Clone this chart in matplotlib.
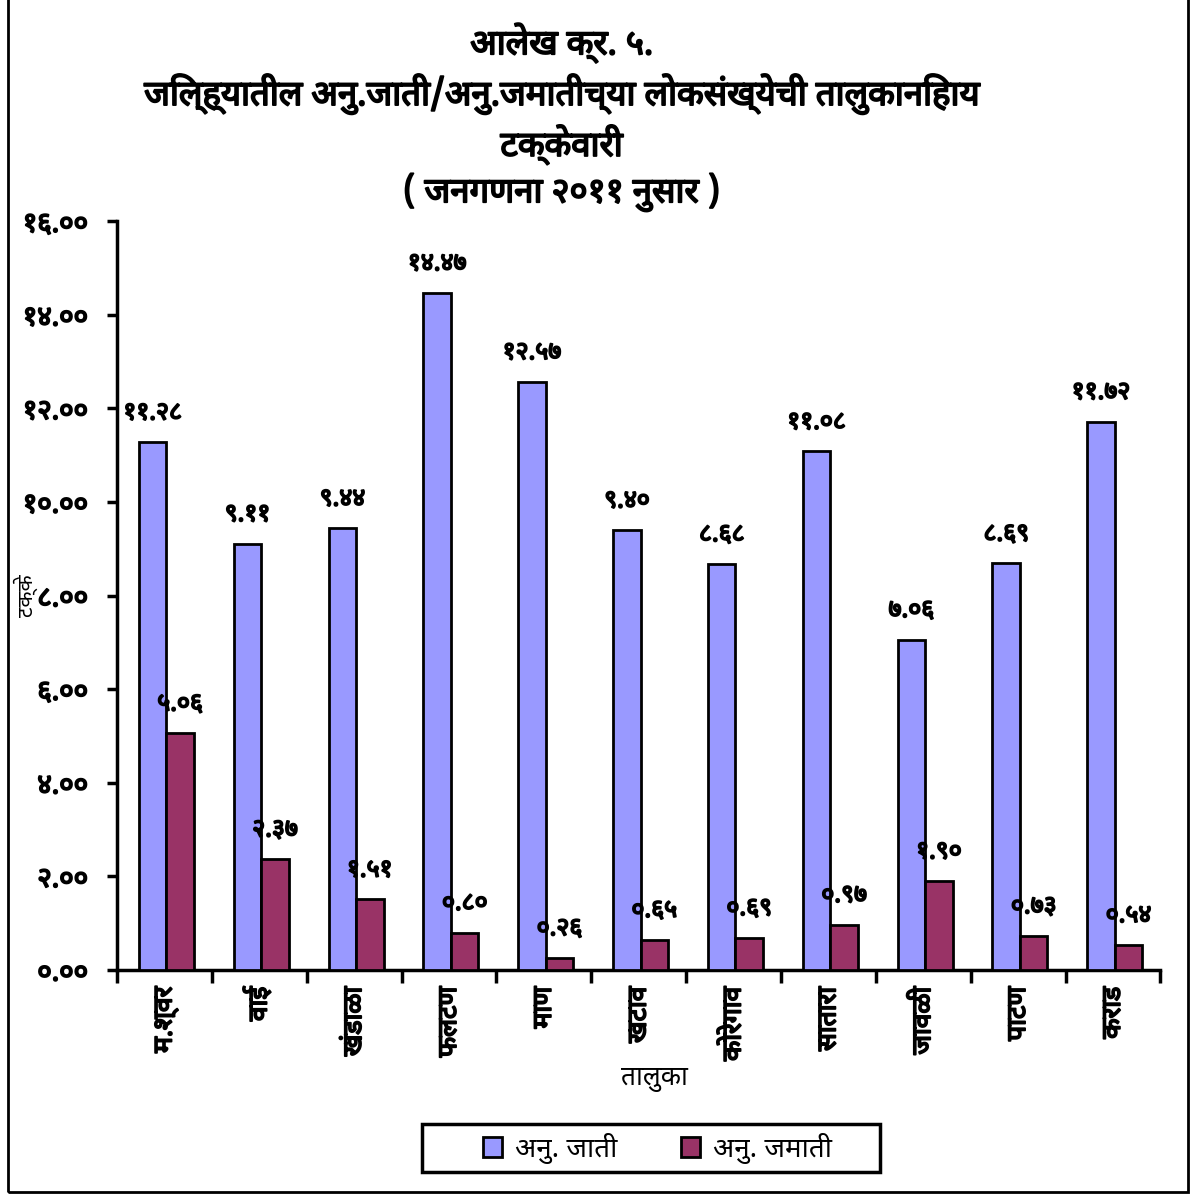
import numpy as np
import matplotlib
matplotlib.use('Agg')
import matplotlib.pyplot as plt
import matplotlib.patheffects as pe
from matplotlib import font_manager, ft2font
from matplotlib.patches import Rectangle

# Data
talukas = ['म.श्वर', 'वाई', 'खंडाळा', 'फलटण', 'माण', 'खटाव',
           'कोरेगाव', 'सातारा', 'जावळी', 'पाटण', 'कराड']
sc_values = [11.28, 9.11, 9.44, 14.47, 12.57, 9.40, 8.68, 11.08, 7.06, 8.69, 11.72]
st_values = [5.06, 2.37, 1.51, 0.80, 0.26, 0.65, 0.69, 0.97, 1.90, 0.73, 0.54]
series_names = ['अनु. जाती', 'अनु. जमाती']
y_ticks = [0, 2, 4, 6, 8, 10, 12, 14, 16]

title_lines = ['आलेख क्र. ५.',
               'जिल्ह्यातील अनु.जाती/अनु.जमातीच्या लोकसंख्येची तालुकानिहाय',
               'टक्केवारी',
               '( जनगणना २०११ नुसार )']


def find_devanagari_font():
    # look for an installed font that has Devanagari glyphs
    names = []
    for f in font_manager.fontManager.ttflist:
        try:
            cmap = ft2font.FT2Font(f.fname).get_charmap()
        except Exception:
            continue
        if 0x0915 in cmap and 0x0966 in cmap:
            names.append(f.name)
    for pref in ['Noto Sans Devanagari', 'Lohit Devanagari', 'FreeSans', 'Mangal']:
        if pref in names:
            return pref
    return names[0] if names else None


deva = find_devanagari_font()
families = [deva, 'DejaVu Sans'] if deva else ['DejaVu Sans']
plt.rcParams['font.family'] = families

DIGITS = str.maketrans('0123456789', '०१२३४५६७८९')
# the Devanagari font has no bold face, so thicken the strokes a little
BOLD = [pe.withStroke(linewidth=1.3, foreground='black')]


def to_deva(value):
    return f'{value:.2f}'.translate(DIGITS)


fig = plt.figure(figsize=(11.95, 11.96), dpi=100)
ax = fig.add_axes([0.098, 0.189, 0.873, 0.626])

x = np.arange(len(talukas))
width = 0.29
sc_color = '#9999FF'
st_color = '#993366'

bars_sc = ax.bar(x - width / 2 + 0.02, sc_values, width, color=sc_color,
                 edgecolor='black', linewidth=2, label=series_names[0], zorder=3)
bars_st = ax.bar(x + width / 2 + 0.02, st_values, width, color=st_color,
                 edgecolor='black', linewidth=2, label=series_names[1], zorder=3)

for bars, vals in [(bars_sc, sc_values), (bars_st, st_values)]:
    for b, v in zip(bars, vals):
        ax.annotate(to_deva(v), (b.get_x() + b.get_width() / 2, v),
                    xytext=(0, 12), textcoords='offset points',
                    ha='center', va='bottom', fontsize=18, path_effects=BOLD)

ax.set_xlim(-0.5, len(talukas) - 0.5)
ax.set_ylim(0, 16)
ax.set_yticks(y_ticks)
ax.set_yticklabels([to_deva(t) for t in y_ticks], fontsize=20)
ax.set_xticks(x)
ax.set_xticklabels(talukas, rotation=90, fontsize=19, va='top')
for lab in ax.get_yticklabels() + ax.get_xticklabels():
    lab.set_path_effects(BOLD)
ax.set_xticks(np.arange(-0.5, len(talukas)), minor=True)
ax.tick_params(axis='x', which='major', length=0, pad=12)
ax.tick_params(axis='x', which='minor', length=9, width=2.5, direction='out')
ax.tick_params(axis='y', length=7, width=2.5, direction='out', pad=14)

for side in ['top', 'right']:
    ax.spines[side].set_visible(False)
for side in ['left', 'bottom']:
    ax.spines[side].set_linewidth(2.5)

ax.set_xlabel('तालुका', fontsize=19)
ax.xaxis.set_label_coords(0.515, -0.125)
ax.set_ylabel('टक्के', fontsize=15)
ax.yaxis.set_label_coords(-0.076, 0.5)

fig.text(0.47, 0.981, '\n'.join(title_lines), ha='center', va='top',
         fontsize=25, linespacing=1.31, path_effects=BOLD)

# legend entries without frame; the wide Excel-style box is drawn separately
leg = fig.legend(loc='center', bbox_to_anchor=(0.55, 0.04), ncol=2,
                 fontsize=20, frameon=False,
                 handlelength=0.7, handleheight=0.7, columnspacing=2.3,
                 handletextpad=0.45)
fig.patches.append(Rectangle((0.353, 0.020), 0.383, 0.040, transform=fig.transFigure,
                             fill=False, edgecolor='black', linewidth=2.5))

# outer frame round the whole chart
fig.patches.append(Rectangle((0.007, 0.003), 0.987, 1.0, transform=fig.transFigure,
                             fill=False, edgecolor='black', linewidth=2))

fig.savefig('out.png', dpi=100)
